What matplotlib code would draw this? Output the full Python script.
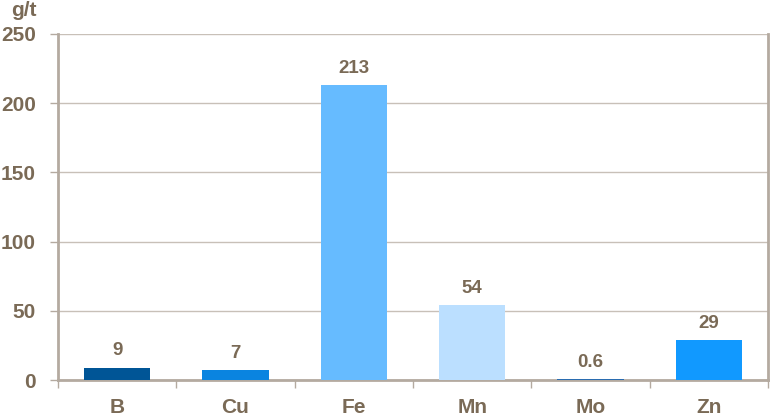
import matplotlib
matplotlib.use("Agg")
import matplotlib.pyplot as plt
import numpy as np

categories = ["B", "Cu", "Fe", "Mn", "Mo", "Zn"]
values = [9, 7, 213, 54, 0.6, 29]
labels = ["9", "7", "213", "54", "0.6", "29"]
colors = ["#005596", "#0A84E0", "#66BBFF", "#BBDFFF", "#2A6CB0", "#1199FF"]
yticks = [0, 50, 100, 150, 200, 250]

txt = "#7A6A56"
axc = "#B4AAA0"

plt.rcParams['font.family'] = ['Liberation Sans', 'DejaVu Sans']
fig = plt.figure(figsize=(7.74, 4.19), dpi=100)
ax = fig.add_axes([58/774, 1-380/419, (768-58)/774, (380-34)/419])

x = np.arange(len(categories))
ax.bar(x, values, width=0.56, color=colors, zorder=3)
for xi, v, l in zip(x, values, labels):
    ax.text(xi, v + 6, l, ha="center", va="bottom", fontsize=13.5,
            fontweight="bold", color=txt)

ax.set_xlim(-0.5, len(categories) - 0.5)
ax.set_ylim(0, 250)
ax.set_yticks(yticks)
ax.set_yticklabels([str(t) for t in yticks], fontsize=15, fontweight="bold", color=txt)
ax.set_xticks(x)
ax.set_xticklabels(categories, fontsize=15, fontweight="bold", color=txt)
ax.tick_params(axis="x", length=0, pad=13)
ax.set_xticks(np.arange(-0.5, len(categories)), minor=True)
ax.tick_params(axis="x", which="minor", length=6, color=axc, width=1)
ax.tick_params(axis="y", length=6, color=axc, width=1, pad=10)

ax.grid(axis="y", color="#C8C0B8", linewidth=1, zorder=0)
for s in ["left", "right", "bottom"]:
    ax.spines[s].set_color(axc)
    ax.spines[s].set_linewidth(2)
ax.spines["top"].set_visible(False)

fig.text(11/774, 1-11/419, "g/t", fontsize=15, fontweight="bold", color=txt,
         ha="left", va="center")

fig.savefig("out.png", dpi=100)
